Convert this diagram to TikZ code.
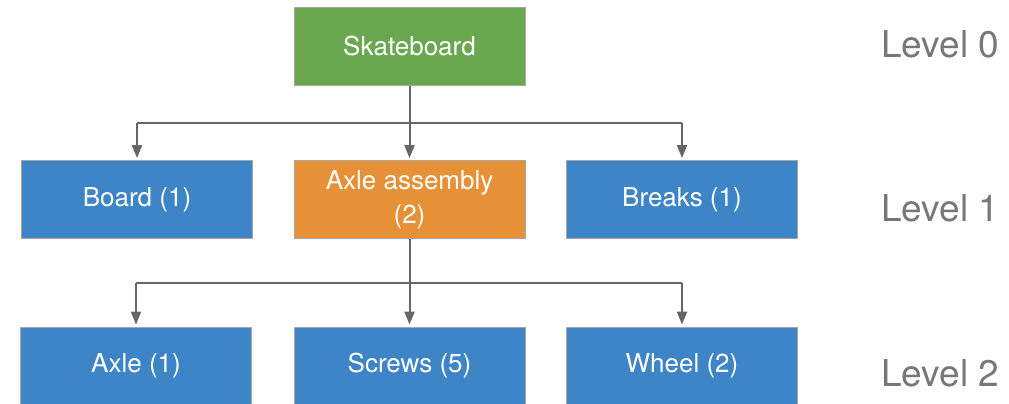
\documentclass[tikz,border=0pt]{standalone}
\usepackage{fontspec}
\setmainfont{TeX Gyre Heros}
\usetikzlibrary{arrows.meta}
\definecolor{partgreen}{HTML}{6AA84F}
\definecolor{partblue}{HTML}{3D85C6}
\definecolor{partorange}{HTML}{E69138}
\definecolor{linkgray}{HTML}{666666}
\definecolor{levelgray}{HTML}{777777}
\tikzset{
  part/.style={draw=black!35, line width=0.8pt, minimum width=231pt, minimum height=78pt,
    inner sep=0pt, text=white, font=\fontsize{26}{34}\selectfont, align=center},
  link/.style={draw=linkgray, line width=2pt, -{Triangle[length=13pt,width=10pt]}, shorten >=2pt},
  bus/.style={draw=linkgray, line width=2pt},
  levellabel/.style={text=levelgray, font=\fontsize{37}{40}\selectfont, anchor=west, inner sep=0pt}
}
\begin{document}
\begin{tikzpicture}[x=1pt, y=-1pt]
  \useasboundingbox (0,0) rectangle (1009,404);

  % root
  \node[part, fill=partgreen] (root) at (409.5,46.5) {Skateboard};

  % first level
  \node[part, fill=partblue]   (board)  at (137,199.5) {Board (1)};
  \node[part, fill=partorange] (axasm)  at (409.5,199.5) {Axle assembly\\(2)};
  \node[part, fill=partblue]   (breaks) at (682,199.5) {Breaks (1)};

  % second level
  \node[part, fill=partblue] (axle)   at (136,366) {Axle (1)};
  \node[part, fill=partblue] (screws) at (409.5,366) {Screws (5)};
  \node[part, fill=partblue] (wheel)  at (682,366) {Wheel (2)};

  % bus lines
  \coordinate (busA) at (409.5,123);
  \coordinate (busB) at (409.5,283);
  \draw[bus] (root.south) -- (busA);
  \draw[bus] (board.north |- busA) -- (breaks.north |- busA);
  \draw[bus] (axasm.south) -- (busB);
  \draw[bus] (axle.north |- busB) -- (wheel.north |- busB);

  % arrows to children
  \draw[link] (board.north |- busA) -- (board.north);
  \draw[link] (busA) -- (axasm.north);
  \draw[link] (breaks.north |- busA) -- (breaks.north);
  \draw[link] (axle.north |- busB) -- (axle.north);
  \draw[link] (busB) -- (screws.north);
  \draw[link] (wheel.north |- busB) -- (wheel.north);

  % level labels
  \node[levellabel] (lv0) at (881,44) {Level 0};
  \node[levellabel] (lv1) at (881,208) {Level 1};
  \node[levellabel] (lv2) at (881,373) {Level 2};
\end{tikzpicture}
\end{document}
